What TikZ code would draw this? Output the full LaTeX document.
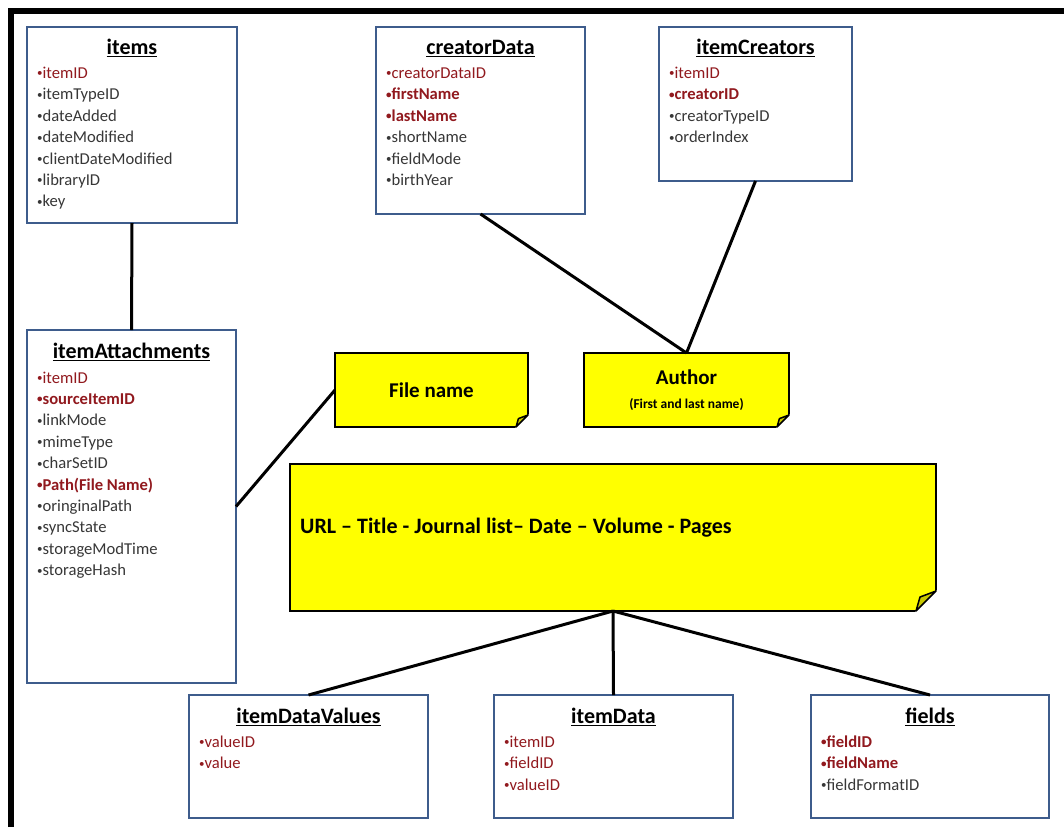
\documentclass[tikz,border=0pt]{standalone}
\usepackage{fontspec}
\setmainfont{Carlito}
\usetikzlibrary{positioning}
\definecolor{tableblue}{RGB}{62,92,140}
\definecolor{keyred}{RGB}{145,25,30}
\definecolor{fieldgrey}{RGB}{55,55,55}
\definecolor{noteyellow}{RGB}{255,255,0}
\definecolor{foldyellow}{RGB}{200,200,0}
\newcommand\fldbullet{\raisebox{1.6pt}{\fontsize{11}{11}\selectfont\textbullet}}
\tikzset{
  tblbox/.style={draw=tableblue, line width=2.5, fill=white, inner sep=0, outer sep=0},
  tbltitle/.style={font=\fontsize{22}{24}\selectfont\bfseries, anchor=base, inner sep=0},
  fldn/.style={font=\fontsize{16.6}{19}\selectfont, text=fieldgrey, anchor=base west, inner sep=0},
  fldk/.style={fldn, text=keyred},
  fldb/.style={fldk, font=\fontsize{16.6}{19}\selectfont\bfseries},
  stickynote/.style={draw=black, line width=2, fill=noteyellow, inner sep=0, outer sep=0,
    font=\fontsize{21}{24}\selectfont\bfseries},
  joinline/.style={draw=black, line width=3},
}
% dog-ear on the lower right corner of a note: #1 node, #2 size
\newcommand\notefold[2]{%
  \fill[white] ([xshift={-(#2+3)}, yshift=-3]#1.south east)
    -- ([xshift=3, yshift={#2+3}]#1.south east)
    -- ([xshift=3, yshift=-3]#1.south east) -- cycle;
  \filldraw[fill=foldyellow, draw=black, line width=1.5, line join=round]
    ([xshift=-#2]#1.south east) -- ([yshift=#2]#1.south east)
    -- ([xshift={-0.8*#2}, yshift={0.7*#2}]#1.south east) -- cycle;
}

\begin{document}
\begin{tikzpicture}[x=1pt, y=-1pt]
\useasboundingbox (0,0) rectangle (1064,827);
\draw[line width=6] (10.5,827) -- (10.5,11) -- (1064,11);

% tables
\node[tblbox, minimum width=210, minimum height=196] (items) at (132,125) {};
\node[tbltitle] (items-title) at ([yshift=-27.5]items.north) {\underline{items}};
\foreach \t/\f [count=\i] in {k/itemID, n/itemTypeID, n/dateAdded, n/dateModified,
    n/clientDateModified, n/libraryID, n/key}
  \node[fld\t] (items-\i) at ([xshift=10, yshift={-51.5-21.4*(\i-1)}]items.north west) {\fldbullet\f};

\node[tblbox, minimum width=209, minimum height=187] (creatorData) at (480.5,120.5) {};
\node[tbltitle] (creatorData-title) at ([yshift=-27.5]creatorData.north) {\underline{creatorData}};
\foreach \t/\f [count=\i] in {k/creatorDataID, b/firstName, b/lastName, n/shortName,
    n/fieldMode, n/birthYear}
  \node[fld\t] (creatorData-\i) at ([xshift=10, yshift={-51.5-21.4*(\i-1)}]creatorData.north west) {\fldbullet\f};

\node[tblbox, minimum width=193, minimum height=154] (itemCreators) at (755.5,104) {};
\node[tbltitle] (itemCreators-title) at ([yshift=-27.5]itemCreators.north) {\underline{itemCreators}};
\foreach \t/\f [count=\i] in {k/itemID, b/creatorID, n/creatorTypeID, n/orderIndex}
  \node[fld\t] (itemCreators-\i) at ([xshift=10, yshift={-51.5-21.4*(\i-1)}]itemCreators.north west) {\fldbullet\f};

\node[tblbox, minimum width=209, minimum height=353] (itemAttachments) at (131.5,506.5) {};
\node[tbltitle] (itemAttachments-title) at ([yshift=-28.5]itemAttachments.north) {\underline{itemAttachments}};
\foreach \t/\f [count=\i] in {k/itemID, b/sourceItemID, n/linkMode, n/mimeType, n/charSetID,
    b/Path(File Name), n/oringinalPath, n/syncState, n/storageModTime, n/storageHash}
  \node[fld\t] (itemAttachments-\i) at ([xshift=10, yshift={-53-21.4*(\i-1)}]itemAttachments.north west) {\fldbullet\f};

\node[tblbox, minimum width=239, minimum height=123] (itemDataValues) at (308.5,756.5) {};
\node[tbltitle] (itemDataValues-title) at ([yshift=-28.5]itemDataValues.north) {\underline{itemDataValues}};
\foreach \t/\f [count=\i] in {k/valueID, k/value}
  \node[fld\t] (itemDataValues-\i) at ([xshift=10, yshift={-52.5-21.4*(\i-1)}]itemDataValues.north west) {\fldbullet\f};

\node[tblbox, minimum width=239, minimum height=123] (itemData) at (613.5,756.5) {};
\node[tbltitle] (itemData-title) at ([yshift=-28.5]itemData.north) {\underline{itemData}};
\foreach \t/\f [count=\i] in {k/itemID, k/fieldID, k/valueID}
  \node[fld\t] (itemData-\i) at ([xshift=10, yshift={-52.5-21.4*(\i-1)}]itemData.north west) {\fldbullet\f};

\node[tblbox, minimum width=238, minimum height=123] (fields) at (930,756.5) {};
\node[tbltitle] (fields-title) at ([yshift=-28.5]fields.north) {\underline{fields}};
\foreach \t/\f [count=\i] in {b/fieldID, b/fieldName, n/fieldFormatID}
  \node[fld\t] (fields-\i) at ([xshift=10, yshift={-52.5-21.4*(\i-1)}]fields.north west) {\fldbullet\f};

% notes
\node[stickynote, minimum width=193, minimum height=74] (filename) at (431.5,390) {File name};
\node[stickynote, minimum width=205, minimum height=74, align=center] (author) at (686.5,390)
  {Author\\[0pt]{\fontsize{13.5}{15}\selectfont (First and last name)}};
\node[stickynote, minimum width=646, minimum height=147] (urlnote) at (613,537.5) {};
\node[font=\fontsize{22}{24}\selectfont\bfseries, anchor=west, inner sep=0] (urltext)
  at ([xshift=10, yshift=10]urlnote.west) {URL – Title - Journal list– Date – Volume - Pages};
\notefold{filename}{12}
\notefold{author}{12}
\notefold{urlnote}{20}

% links
\draw[joinline] (items.south) -- (itemAttachments.north);
\draw[joinline] (itemAttachments.east) -- (filename.west);
\draw[joinline] (creatorData.south) -- (author.north);
\draw[joinline] (itemCreators.south) -- (author.north);
\draw[joinline] (urlnote.south) -- (itemDataValues.north);
\draw[joinline] (urlnote.south) -- (itemData.north);
\draw[joinline] (urlnote.south) -- (fields.north);
\end{tikzpicture}
\end{document}
